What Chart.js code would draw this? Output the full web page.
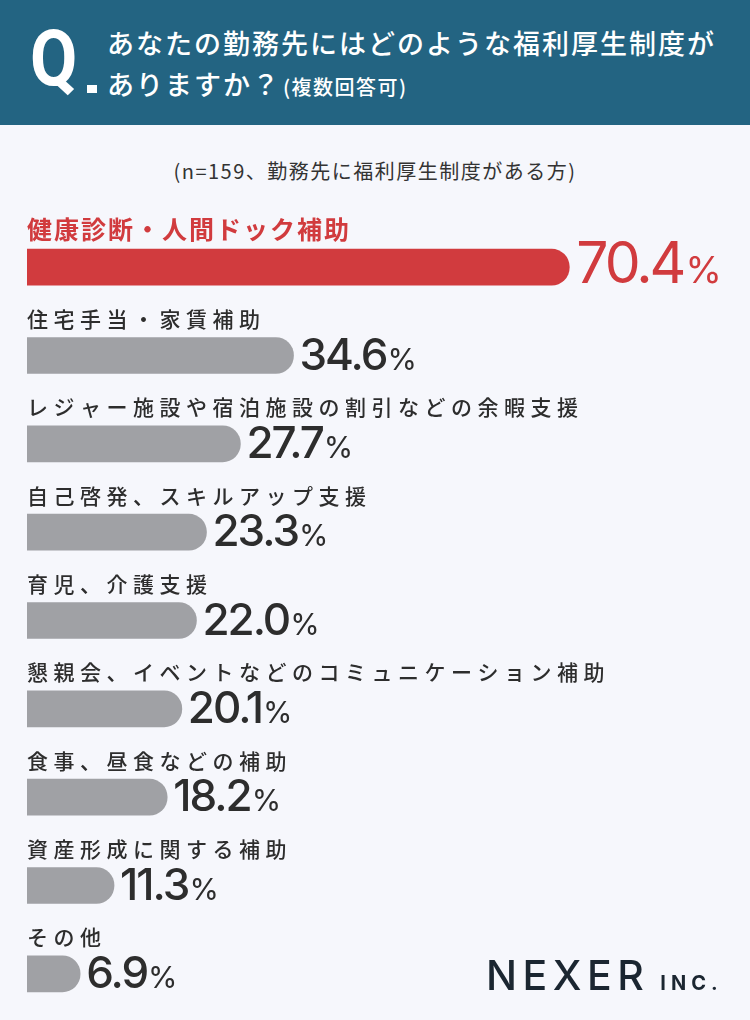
<!DOCTYPE html>
<html lang="ja">
<head>
<meta charset="utf-8">
<script src="https://cdn.jsdelivr.net/npm/chart.js@4"></script>
<style>
  body {
    margin: 0;
    width: 750px;
    height: 1020px;
    background: #f6f7fc;
    position: relative;
    overflow: hidden;
    font-family: "Noto Sans CJK JP", sans-serif;
  }
  #header {
    position: absolute;
    left: 0; top: 0;
    width: 750px; height: 125px;
    background: #236482;
    color: #fff;
  }
  #q {
    position: absolute;
    left: 30px; top: 20px;
    font-family: Roboto, sans-serif;
    font-weight: 700;
    font-size: 78px;
    line-height: 78px;
    transform: scaleX(0.88);
    transform-origin: left top;
  }
  #dot {
    position: absolute;
    left: 87px; top: 85px;
    width: 10px; height: 8px;
    background: #fff;
  }
  .title {
    position: absolute;
    left: 107px;
    font-size: 27px;
    line-height: 27px;
    font-weight: 500;
    letter-spacing: 2px;
    white-space: nowrap;
  }
  .title small {
    font-size: 20px;
    letter-spacing: 1.5px;
    margin-left: 2px;
  }
  #note {
    position: absolute;
    left: 0; top: 161px;
    width: 750px;
    text-align: center;
    font-size: 20px;
    line-height: 20px;
    letter-spacing: 1.5px;
    color: #333;
  }
  #logo {
    position: absolute;
    left: 486px; top: 955px;
    font-family: Inter, sans-serif;
    font-size: 41px;
    line-height: 41px;
    font-weight: 500;
    letter-spacing: 5.5px;
    color: #1b2631;
    white-space: nowrap;
  }
  #logo span {
    font-size: 20px;
    font-weight: 700;
    letter-spacing: 5px;
    margin-left: 11px;
  }
  #chartBox {
    position: absolute;
    left: 0; top: 0;
    width: 750px; height: 1020px;
  }
</style>
</head>
<body>
<div id="header">
  <div id="q">Q</div>
  <div id="dot"></div>
  <div class="title" style="top:29px">あなたの勤務先にはどのような福利厚生制度が</div>
  <div class="title" style="top:70px">ありますか？<small>(複数回答可)</small></div>
</div>
<div id="note">(n=159、勤務先に福利厚生制度がある方)</div>
<div id="chartBox"><canvas id="chart" width="750" height="1020"></canvas></div>
<div id="logo">NEXER<span>INC.</span></div>

<script>
const categories = [
  '健康診断・人間ドック補助',
  '住宅手当・家賃補助',
  'レジャー施設や宿泊施設の割引などの余暇支援',
  '自己啓発、スキルアップ支援',
  '育児、介護支援',
  '懇親会、イベントなどのコミュニケーション補助',
  '食事、昼食などの補助',
  '資産形成に関する補助',
  'その他'
];
const values = [70.4, 34.6, 27.7, 23.3, 22.0, 20.1, 18.2, 11.3, 6.9];

const RED = '#d13b3e';
const GRAY = '#a0a1a5';
const TEXT = '#2d2d2d';

// category name above each bar, value + % right of it
const barLabels = {
  id: 'barLabels',
  afterDatasetsDraw(chart) {
    const ctx = chart.ctx;
    const meta = chart.getDatasetMeta(0);
    meta.data.forEach((bar, i) => {
      const top = bar.y - bar.height / 2;
      const bottom = bar.y + bar.height / 2;
      const first = i === 0;
      ctx.save();
      ctx.textAlign = 'left';
      ctx.textBaseline = 'alphabetic';

      ctx.fillStyle = first ? RED : TEXT;
      ctx.font = first ? '700 25px "Noto Sans CJK JP"' : '500 21px "Noto Sans CJK JP"';
      ctx.letterSpacing = first ? '2px' : '5.5px';
      ctx.fillText(categories[i], chart.chartArea.left, top - 10.5);

      const num = values[i].toFixed(1);
      ctx.font = first ? '400 57px Inter' : '500 44px Inter';
      ctx.letterSpacing = first ? '-3px' : '-2px';
      const nx = bar.x + (first ? 7 : 6);
      const base = bottom - (first ? 2 : 4);
      ctx.fillText(num, nx, base);
      const w = ctx.measureText(num).width;

      ctx.font = first ? '400 37px Inter' : '400 30px Inter';
      ctx.letterSpacing = '-1px';
      ctx.fillText('%', nx + w + (first ? 2 : 1), base);
      ctx.restore();
    });
  }
};

new Chart(document.getElementById('chart'), {
  type: 'bar',
  data: {
    labels: categories,
    datasets: [{
      data: values,
      backgroundColor: values.map((v, i) => i === 0 ? RED : GRAY),
      barThickness: 36,
      borderRadius: { topLeft: 0, bottomLeft: 0, topRight: 18, bottomRight: 18 },
      borderSkipped: false
    }]
  },
  options: {
    indexAxis: 'y',
    responsive: false,
    animation: false,
    layout: { padding: { left: 27, right: 22, top: 223, bottom: 2 } },
    scales: {
      x: { display: false, min: 0, max: 91 },
      y: { display: false }
    },
    plugins: {
      legend: { display: false },
      tooltip: { enabled: false }
    }
  },
  plugins: [barLabels]
});
</script>
</body>
</html>
